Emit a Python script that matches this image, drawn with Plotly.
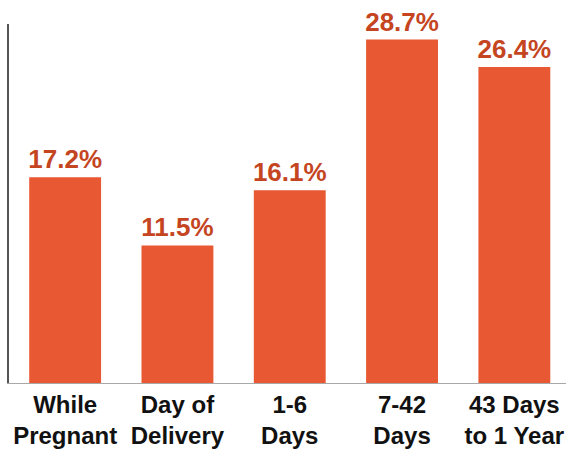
import plotly.graph_objects as go

categories = ["While<br>Pregnant", "Day of<br>Delivery", "1-6<br>Days", "7-42<br>Days", "43 Days<br>to 1 Year"]
values = [17.2, 11.5, 16.1, 28.7, 26.4]
value_labels = [f"{v:.1f}%" for v in values]

bar_color = "#E85832"
label_color = "#C4451F"

fig = go.Figure(
    go.Bar(
        x=list(range(len(categories))),
        y=values,
        width=0.64,
        marker=dict(color=bar_color, line=dict(width=0)),
        text=value_labels,
        textposition="outside",
        constraintext="none",
        cliponaxis=False,
        textfont=dict(family="Liberation Sans", size=26, color=label_color, weight="bold"),
    )
)

fig.update_layout(
    width=566,
    height=449,
    margin=dict(l=9, r=0, t=24, b=62),
    paper_bgcolor="white",
    plot_bgcolor="white",
    showlegend=False,
    font=dict(family="Liberation Sans"),
)

fig.update_xaxes(
    range=[-0.5, 4.46],
    tickmode="array",
    tickvals=list(range(len(categories))),
    ticktext=categories,
    tickfont=dict(family="Liberation Sans", size=24, color="#111111", weight="bold"),
    showgrid=False,
    zeroline=False,
    showline=True,
    linecolor="#A8A8A8",
    linewidth=1,
    ticks="",
)

fig.update_yaxes(
    range=[0, 30],
    showgrid=False,
    zeroline=False,
    showticklabels=False,
    showline=True,
    linecolor="#555555",
    linewidth=1.5,
    ticks="",
)

fig.write_html("out.html")
